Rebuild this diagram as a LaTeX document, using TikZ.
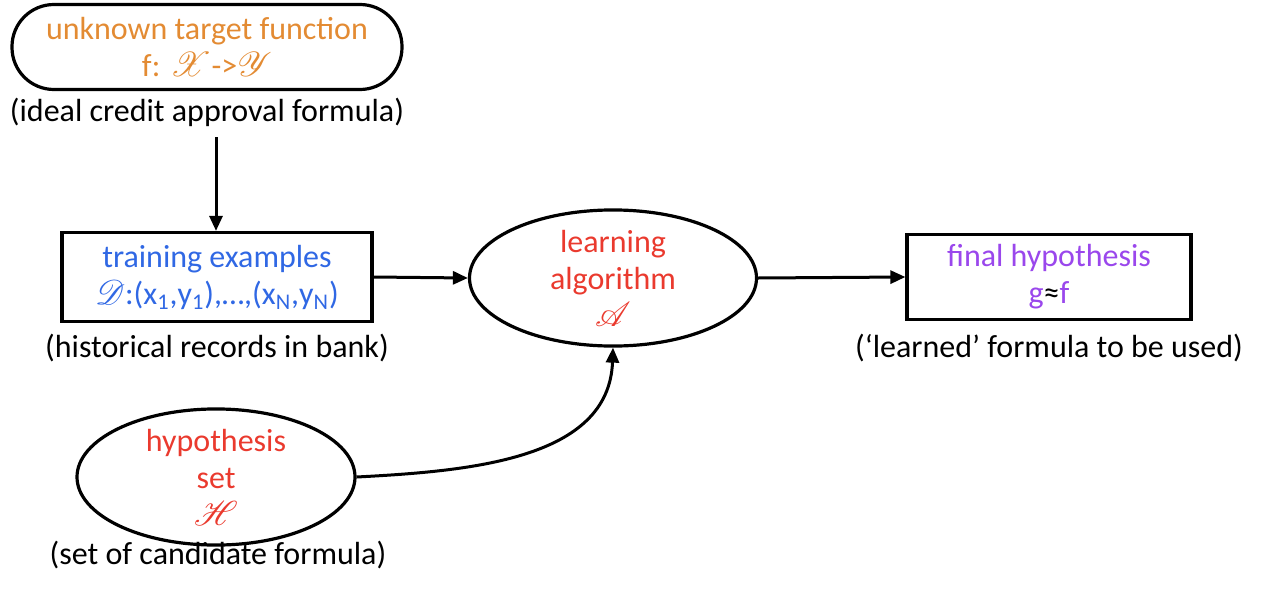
\documentclass[tikz,border=0pt]{standalone}
\usepackage{fontspec}
\usepackage{mathrsfs}
\setmainfont{Carlito}
\usetikzlibrary{arrows.meta,positioning,shapes.geometric}
\definecolor{flowtarget}{HTML}{E38B33}
\definecolor{flowdata}{HTML}{3068E4}
\definecolor{flowalgo}{HTML}{EA3A2E}
\definecolor{flowfinal}{HTML}{9A47EC}
\newcommand{\scr}[1]{{\fontsize{18}{18}\selectfont$\mathscr{#1}$}}

\begin{document}
\begin{tikzpicture}[
  x=0.5pt, y=-0.5pt,
  every node/.style={font=\fontsize{16}{18.5}\selectfont, align=center},
  target/.style={draw, line width=1.6pt, rounded corners=21pt,
                 minimum width=195pt, minimum height=42.5pt, text=flowtarget},
  databox/.style={draw, line width=1.6pt, minimum width=155pt,
                  minimum height=44.5pt, inner sep=0pt},
  algo/.style={ellipse, draw, line width=1.6pt, inner sep=0pt, text=flowalgo},
  note/.style={inner sep=1pt},
  arrow/.style={-{Triangle[length=7.5pt,width=6.5pt]}, line width=1.5pt}
]
\useasboundingbox (0,0) rectangle (1262,594);

\node[target] (target) at (207,47) {unknown target function\\f: \scr{X}->\scr{Y}};
\node[note] (targetnote) at (207,112) {(ideal credit approval formula)};

\node[databox, text=flowdata] (train) at (217,277)
  {training examples\\\scr{D}:(x\textsubscript{1},y\textsubscript{1}),…,(x\textsubscript{N},y\textsubscript{N})};
\node[note] (trainnote) at (217,348) {(historical records in bank)};

\node[algo, minimum width=143.5pt, minimum height=68pt] (learn) at (613,278)
  {learning\\algorithm\\\scr{A}};

\node[databox, minimum width=142pt, minimum height=42.5pt] (final) at (1049,277)
  {\textcolor{flowfinal}{final hypothesis}\\\textcolor{flowfinal}{g}≈\textcolor{flowfinal}{f}};
\node[note] (finalnote) at (1049,348) {(‘learned’ formula to be used)};

\node[algo, minimum width=139pt, minimum height=63.5pt] (hyp) at (216,477)
  {hypothesis\\set\\\scr{H}};
\node[note] (hypnote) at (218,555) {(set of candidate formula)};

\draw[arrow] (216,137) -- (train.north -| 216,0);
\draw[arrow] (train.east) -- (learn.west);
\draw[arrow] (learn.east) -- (final.west);
\draw[arrow] (hyp.east) to[out=3,in=-92] (learn.south);
\end{tikzpicture}
\end{document}
